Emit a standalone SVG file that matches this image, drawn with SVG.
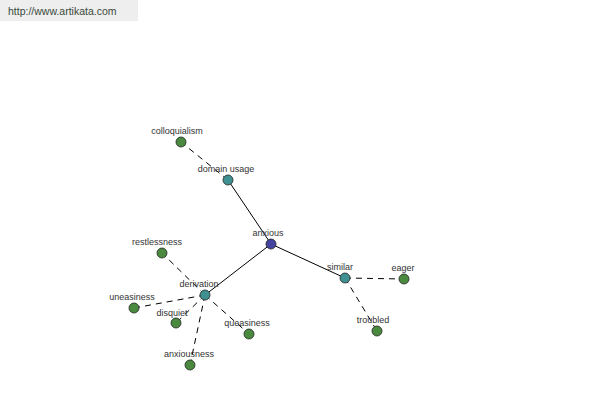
<svg xmlns="http://www.w3.org/2000/svg" width="600" height="400" viewBox="0 0 600 400">
<style>
.lbl{font-family:"Liberation Sans",Arial,sans-serif;font-size:9px;fill:#333;text-anchor:middle}
.solid{stroke:#000;stroke-width:1;fill:none}
.dash{stroke:#000;stroke-width:1;fill:none;stroke-dasharray:6,5}
.node{stroke:#222;stroke-width:0.8}
.root{fill:#4444a0}
.mid{fill:#3f9090}
.leaf{fill:#4a8a3e}
</style>
<rect width="600" height="400" fill="#fff"/>
<rect x="0" y="0" width="138" height="21" fill="#eeeeee"/>
<text x="8" y="15" style="font-family:'Liberation Sans',Arial,sans-serif;font-size:10.5px;fill:#3a4a3a">http://www.artikata.com</text>
<g id="connectors">
<line class="solid" x1="271" y1="244" x2="228" y2="180"/>
<line class="solid" x1="271" y1="244" x2="205" y2="295"/>
<line class="solid" x1="271" y1="244" x2="345" y2="278"/>
<line class="dash" x1="228" y1="180" x2="181" y2="142"/>
<line class="dash" x1="205" y1="295" x2="162" y2="253"/>
<line class="dash" x1="205" y1="295" x2="134" y2="308"/>
<line class="dash" x1="205" y1="295" x2="176" y2="323"/>
<line class="dash" x1="205" y1="295" x2="249" y2="334"/>
<line class="dash" x1="205" y1="295" x2="190" y2="365"/>
<line class="dash" x1="345" y1="278" x2="404" y2="279"/>
<line class="dash" x1="345" y1="278" x2="377" y2="331"/>
</g>
<g id="anxious"><circle class="node root" cx="271" cy="244" r="5"/><text class="lbl" x="268" y="236">anxious</text></g>
<g id="domain_usage"><circle class="node mid" cx="228" cy="180" r="5"/><text class="lbl" x="226" y="172">domain usage</text></g>
<g id="colloquialism"><circle class="node leaf" cx="181" cy="142" r="5"/><text class="lbl" x="177" y="134">colloquialism</text></g>
<g id="derivation"><circle class="node mid" cx="205" cy="295" r="5"/><text class="lbl" x="199" y="287">derivation</text></g>
<g id="restlessness"><circle class="node leaf" cx="162" cy="253" r="5"/><text class="lbl" x="157" y="245">restlessness</text></g>
<g id="uneasiness"><circle class="node leaf" cx="134" cy="308" r="5"/><text class="lbl" x="132" y="300">uneasiness</text></g>
<g id="disquiet"><circle class="node leaf" cx="176" cy="323" r="5"/><text class="lbl" x="172" y="316">disquiet</text></g>
<g id="queasiness"><circle class="node leaf" cx="249" cy="334" r="5"/><text class="lbl" x="247" y="326">queasiness</text></g>
<g id="anxiousness"><circle class="node leaf" cx="190" cy="365" r="5"/><text class="lbl" x="189" y="357">anxiousness</text></g>
<g id="similar"><circle class="node mid" cx="345" cy="278" r="5"/><text class="lbl" x="340" y="270">similar</text></g>
<g id="eager"><circle class="node leaf" cx="404" cy="279" r="5"/><text class="lbl" x="403" y="271">eager</text></g>
<g id="troubled"><circle class="node leaf" cx="377" cy="331" r="5"/><text class="lbl" x="373" y="323">troubled</text></g>
</svg>
